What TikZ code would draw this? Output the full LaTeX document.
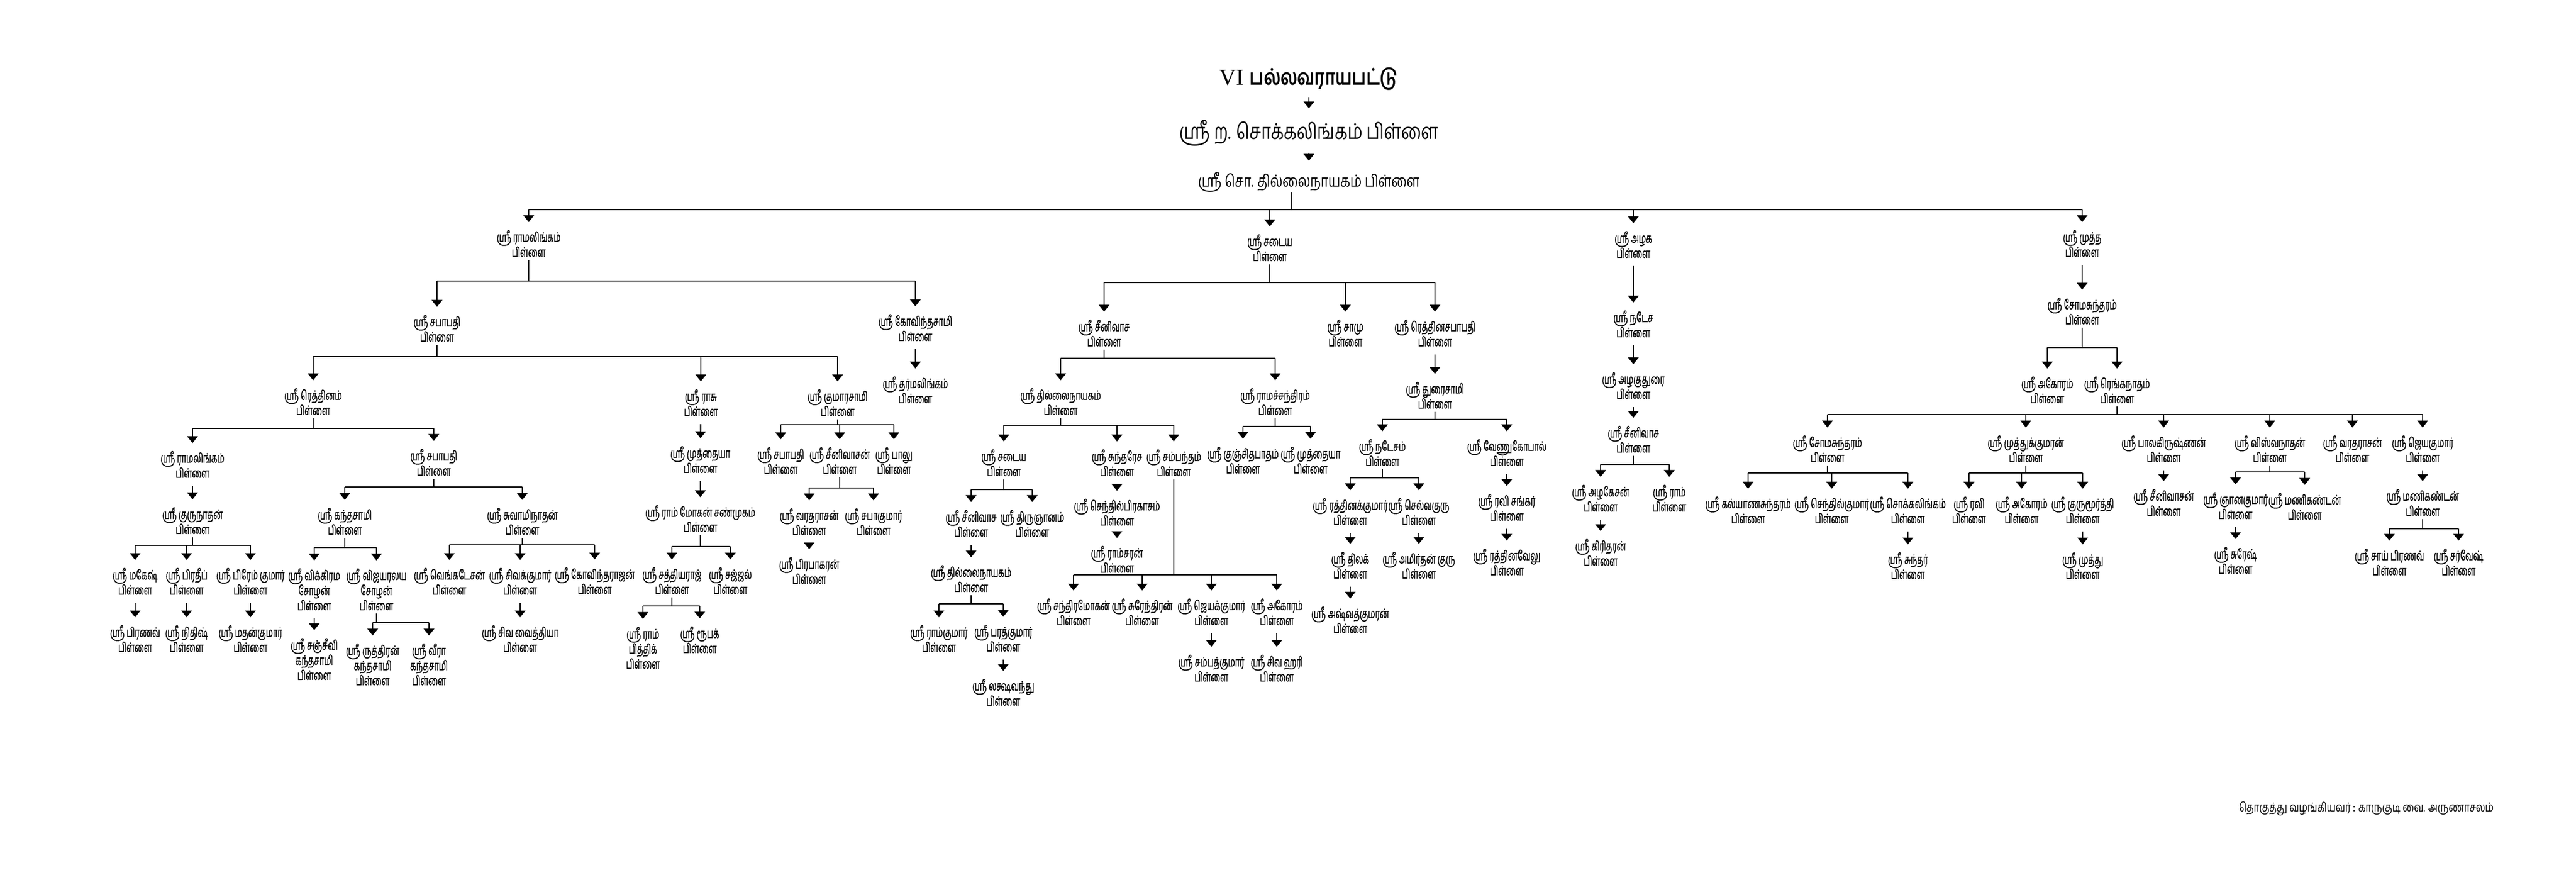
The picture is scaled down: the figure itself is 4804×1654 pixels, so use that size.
\documentclass[tikz,border=0pt]{standalone}
\usepackage{fontspec}
\usetikzlibrary{arrows.meta}
\newfontfamily\tamiltitle[Script=Tamil,FakeStretch=0.775]{Hind Madurai}
\newfontfamily\tamilnarrow[Script=Tamil,FakeStretch=0.6,FakeBold=0.6]{Hind Madurai}
\newfontfamily\romanfont{Liberation Serif}
\newcommand{\pname}{\tamilnarrow\fontsize{7}{8}\selectfont}

\begin{document}
\begin{tikzpicture}[x=0.01cm,y=-0.01cm,>={Triangle[width=5.6pt,length=3.6pt]},
  pn/.style={align=center,inner sep=1.5pt,font=\pname},
  head/.style={inner sep=0pt},
  headarr/.style={->,line width=0.75pt,shorten <=3.5pt,shorten >=6pt},
  arr/.style={->,line width=0.7pt,shorten >=2.5pt},
  down/.style={->,line width=0.7pt,shorten >=2.5pt,shorten <=2.5pt},
  bar/.style={line width=0.7pt},
  stem/.style={line width=0.35pt}]

  \useasboundingbox (0,0) rectangle (4804,1654);

%%%%%%%%%%%%%%%%%%%%%%%%%%%%%%%%%%%%%%%%%%
  % Head of the line
  \node[head] (t0) at (2441,147) {{\romanfont\fontsize{12}{14}\selectfont VI} {\tamiltitle\bfseries\fontsize{11.5}{14}\selectfont பல்லவராயபட்டு}};
  \node[head,font=\tamiltitle\fontsize{11.5}{14}\selectfont] (t1) at (2441,248) {ஸ்ரீ ற. சொக்கலிங்கம் பிள்ளை};
  \node[head,font=\tamiltitle\fontsize{8.8}{11}\selectfont] (t2) at (2441,340) {ஸ்ரீ சொ. தில்லைநாயகம் பிள்ளை};
  \draw[headarr] (t0) -- (t1);
  \draw[headarr] (t1) -- (t2);

  % Four sons
  \node[pn] (r) at (986,454) {ஸ்ரீ ராமலிங்கம்\\பிள்ளை};
  \node[pn] (s) at (2368,462) {ஸ்ரீ சடைய\\பிள்ளை};
  \node[pn] (a) at (3046,456) {ஸ்ரீ அழக\\பிள்ளை};
  \node[pn] (m) at (3883,454) {ஸ்ரீ முத்த\\பிள்ளை};

  \coordinate (mainstem) at (2409,391);
  \draw[stem] (t2.south -| mainstem) -- (mainstem);
  \draw[bar] (r |- 0,391) -- (m |- 0,391);
  \foreach \c in {r,s,a,m} \draw[arr] (\c |- 0,391) -- (\c);

%%%%%%%%%%%%%%%%%%%%%%%%%%%%%%%%%%%%%%%%%%
  % Ramalingam line
  \begin{scope}
    \node[pn] (r1) at (815,612) {ஸ்ரீ சபாபதி\\பிள்ளை};
    \node[pn] (r2) at (1707,611) {ஸ்ரீ கோவிந்தசாமி\\பிள்ளை};
    \node[pn] (r21) at (1707,727) {ஸ்ரீ தர்மலிங்கம்\\பிள்ளை};
    \node[pn] (r11) at (584,749) {ஸ்ரீ ரெத்தினம்\\பிள்ளை};
    \node[pn] (r12) at (1307,751) {ஸ்ரீ ராசு\\பிள்ளை};
    \node[pn] (r13) at (1562,751) {ஸ்ரீ குமாரசாமி\\பிள்ளை};
    \node[pn] (r111) at (359,866) {ஸ்ரீ ராமலிங்கம்\\பிள்ளை};
    \node[pn] (r112) at (809,862) {ஸ்ரீ சபாபதி\\பிள்ளை};
    \node[pn] (r1111) at (359,971) {ஸ்ரீ குருநாதன்\\பிள்ளை};
    \node[pn] (r11111) at (252,1084) {ஸ்ரீ மகேஷ்\\பிள்ளை};
    \node[pn] (r11112) at (348,1084) {ஸ்ரீ பிரதீப்\\பிள்ளை};
    \node[pn] (r11113) at (467,1084) {ஸ்ரீ பிரேம் குமார்\\பிள்ளை};
    \node[pn] (r111111) at (252,1191) {ஸ்ரீ பிரணவ்\\பிள்ளை};
    \node[pn] (r111121) at (348,1191) {ஸ்ரீ நிதிஷ்\\பிள்ளை};
    \node[pn] (r111131) at (467,1191) {ஸ்ரீ மதன்குமார்\\பிள்ளை};
    \node[pn] (r1121) at (643,972) {ஸ்ரீ கந்தசாமி\\பிள்ளை};
    \node[pn] (r1122) at (974,972) {ஸ்ரீ சுவாமிநாதன்\\பிள்ளை};
    \node[pn] (r11211) at (586,1099) {ஸ்ரீ விக்கிரம\\சோழன்\\பிள்ளை};
    \node[pn] (r11212) at (702,1099) {ஸ்ரீ விஜயரலய\\சோழன்\\பிள்ளை};
    \node[pn] (r112111) at (586,1229) {ஸ்ரீ சஞ்சீவி\\கந்தசாமி\\பிள்ளை};
    \node[pn] (r112121) at (695,1239) {ஸ்ரீ ருத்திரன்\\கந்தசாமி\\பிள்ளை};
    \node[pn] (r112122) at (800,1239) {ஸ்ரீ வீரா\\கந்தசாமி\\பிள்ளை};
    \node[pn] (r11221) at (838,1084) {ஸ்ரீ வெங்கடேசன்\\பிள்ளை};
    \node[pn] (r11222) at (970,1084) {ஸ்ரீ சிவக்குமார்\\பிள்ளை};
    \node[pn] (r11223) at (1109,1083) {ஸ்ரீ கோவிந்தராஜன்\\பிள்ளை};
    \node[pn] (r112221) at (970,1191) {ஸ்ரீ சிவ வைத்தியா\\பிள்ளை};
    \node[pn] (r121) at (1306,857) {ஸ்ரீ முத்தையா\\பிள்ளை};
    \node[pn] (r1211) at (1306,967) {ஸ்ரீ ராம் மோகன் சண்முகம்\\பிள்ளை};
    \node[pn] (r12111) at (1253,1083) {ஸ்ரீ சத்தியராஜ்\\பிள்ளை};
    \node[pn] (r12112) at (1362,1083) {ஸ்ரீ சஜ்ஜல்\\பிள்ளை};
    \node[pn] (r121111) at (1199,1208) {ஸ்ரீ ராம்\\பித்திக்\\பிள்ளை};
    \node[pn] (r121112) at (1305,1193) {ஸ்ரீ ரூபக்\\பிள்ளை};
    \node[pn] (r131) at (1456,859) {ஸ்ரீ சபாபதி\\பிள்ளை};
    \node[pn] (r132) at (1566,859) {ஸ்ரீ சீனிவாசன்\\பிள்ளை};
    \node[pn] (r133) at (1667,859) {ஸ்ரீ பாலு\\பிள்ளை};
    \node[pn] (r1321) at (1509,973) {ஸ்ரீ வரதராசன்\\பிள்ளை};
    \node[pn] (r1322) at (1629,973) {ஸ்ரீ சபாகுமார்\\பிள்ளை};
    \node[pn] (r13211) at (1509,1064) {ஸ்ரீ பிரபாகரன்\\பிள்ளை};

    % Families
    \draw[stem] (r) -- (r |- 0,524);
    \draw[bar] (r1 |- 0,524) -- (r2 |- 0,524);
    \foreach \c in {r1,r2} \draw[arr] (\c |- 0,524) -- (\c);

    \draw[stem] (r1) -- (r1 |- 0,665);
    \draw[bar] (r11 |- 0,665) -- (r13 |- 0,665);
    \foreach \c in {r11,r12,r13} \draw[arr] (\c |- 0,665) -- (\c);

    \draw[stem] (r11) -- (r11 |- 0,799);
    \draw[bar] (r111 |- 0,799) -- (r112 |- 0,799);
    \foreach \c in {r111,r112} \draw[arr] (\c |- 0,799) -- (\c);

    \draw[stem] (r1111) -- (r1111 |- 0,1017);
    \draw[bar] (r11111 |- 0,1017) -- (r11113 |- 0,1017);
    \foreach \c in {r11111,r11112,r11113} \draw[arr] (\c |- 0,1017) -- (\c);

    \draw[stem] (r112) -- (r112 |- 0,908);
    \draw[bar] (r1121 |- 0,908) -- (r1122 |- 0,908);
    \foreach \c in {r1121,r1122} \draw[arr] (\c |- 0,908) -- (\c);

    \draw[stem] (r1121) -- (r1121 |- 0,1021);
    \draw[bar] (r11211 |- 0,1021) -- (r11212 |- 0,1021);
    \foreach \c in {r11211,r11212} \draw[arr] (\c |- 0,1021) -- (\c);

    \draw[stem] (r11212) -- (r11212 |- 0,1161);
    \draw[bar] (r112121 |- 0,1161) -- (r112122 |- 0,1161);
    \foreach \c in {r112121,r112122} \draw[arr] (\c |- 0,1161) -- (\c);

    \draw[stem] (r1122) -- (r1122 |- 0,1016);
    \draw[bar] (r11221 |- 0,1016) -- (r11223 |- 0,1016);
    \foreach \c in {r11221,r11222,r11223} \draw[arr] (\c |- 0,1016) -- (\c);

    \draw[stem] (r1211) -- (r1211 |- 0,1019);
    \draw[bar] (r12111 |- 0,1019) -- (r12112 |- 0,1019);
    \foreach \c in {r12111,r12112} \draw[arr] (\c |- 0,1019) -- (\c);

    \draw[stem] (r12111) -- (r12111 |- 0,1130);
    \draw[bar] (r121111 |- 0,1130) -- (r121112 |- 0,1130);
    \foreach \c in {r121111,r121112} \draw[arr] (\c |- 0,1130) -- (\c);

    \draw[stem] (r13) -- (r13 |- 0,792);
    \draw[bar] (r131 |- 0,792) -- (r133 |- 0,792);
    \foreach \c in {r131,r132,r133} \draw[arr] (\c |- 0,792) -- (\c);

    \draw[stem] (r132) -- (r132 |- 0,910);
    \draw[bar] (r1321 |- 0,910) -- (r1322 |- 0,910);
    \foreach \c in {r1321,r1322} \draw[arr] (\c |- 0,910) -- (\c);
  \end{scope}

%%%%%%%%%%%%%%%%%%%%%%%%%%%%%%%%%%%%%%%%%%
  % Sadaiya line
  \begin{scope}
    \node[pn] (s1) at (2059,621) {ஸ்ரீ சீனிவாச\\பிள்ளை};
    \node[pn] (s2) at (2509,621) {ஸ்ரீ சாமு\\பிள்ளை};
    \node[pn] (s3) at (2676,621) {ஸ்ரீ ரெத்தினசபாபதி\\பிள்ளை};
    \node[pn] (s11) at (1978,749) {ஸ்ரீ தில்லைநாயகம்\\பிள்ளை};
    \node[pn] (s12) at (2378,749) {ஸ்ரீ ராமச்சந்திரம்\\பிள்ளை};
    \node[pn] (s111) at (1872,863) {ஸ்ரீ சடைய\\பிள்ளை};
    \node[pn] (s112) at (2083,863) {ஸ்ரீ சுந்தரேச\\பிள்ளை};
    \node[pn] (s113) at (2189,863) {ஸ்ரீ சம்பந்தம்\\பிள்ளை};
    \node[pn] (s1111) at (1811,976) {ஸ்ரீ சீனிவாச\\பிள்ளை};
    \node[pn] (s1112) at (1925,976) {ஸ்ரீ திருஞானம்\\பிள்ளை};
    \node[pn] (s11111) at (1811,1079) {ஸ்ரீ தில்லைநாயகம்\\பிள்ளை};
    \node[pn] (s111111) at (1751,1191) {ஸ்ரீ ராம்குமார்\\பிள்ளை};
    \node[pn] (s111112) at (1871,1190) {ஸ்ரீ பரத்குமார்\\பிள்ளை};
    \node[pn] (s1111121) at (1871,1291) {ஸ்ரீ லக்ஷவந்து\\பிள்ளை};
    \node[pn] (s1121) at (2083,955) {ஸ்ரீ செந்தில்பிரகாசம்\\பிள்ளை};
    \node[pn] (s11211) at (2083,1043) {ஸ்ரீ ராம்சரன்\\பிள்ளை};
    \node[pn] (s1131) at (2002,1141) {ஸ்ரீ சந்திரமோகன்\\பிள்ளை};
    \node[pn] (s1132) at (2130,1141) {ஸ்ரீ சுரேந்திரன்\\பிள்ளை};
    \node[pn] (s1133) at (2259,1141) {ஸ்ரீ ஜெயக்குமார்\\பிள்ளை};
    \node[pn] (s1134) at (2381,1141) {ஸ்ரீ அகோரம்\\பிள்ளை};
    \node[pn] (s11331) at (2259,1246) {ஸ்ரீ சம்பத்குமார்\\பிள்ளை};
    \node[pn] (s11341) at (2381,1246) {ஸ்ரீ சிவ ஹரி\\பிள்ளை};
    \node[pn] (s121) at (2318,858) {ஸ்ரீ குஞ்சிதபாதம்\\பிள்ளை};
    \node[pn] (s122) at (2444,858) {ஸ்ரீ முத்தையா\\பிள்ளை};
    \node[pn] (s31) at (2676,737) {ஸ்ரீ துரைசாமி\\பிள்ளை};
    \node[pn] (s311) at (2578,844) {ஸ்ரீ நடேசம்\\பிள்ளை};
    \node[pn] (s312) at (2810,844) {ஸ்ரீ வேணுகோபால்\\பிள்ளை};
    \node[pn] (s3111) at (2518,954) {ஸ்ரீ ரத்தினக்குமார்\\பிள்ளை};
    \node[pn] (s3112) at (2646,954) {ஸ்ரீ செல்வகுரு\\பிள்ளை};
    \node[pn] (s31111) at (2518,1054) {ஸ்ரீ திலக்\\பிள்ளை};
    \node[pn] (s31121) at (2646,1054) {ஸ்ரீ அமிர்தன் குரு\\பிள்ளை};
    \node[pn] (s311111) at (2518,1156) {ஸ்ரீ அஷ்வத்குமரன்\\பிள்ளை};
    \node[pn] (s3121) at (2810,946) {ஸ்ரீ ரவி சங்கர்\\பிள்ளை};
    \node[pn] (s31211) at (2810,1048) {ஸ்ரீ ரத்தினவேலு\\பிள்ளை};

    % Families
    \draw[stem] (s) -- (s |- 0,527);
    \draw[bar] (s1 |- 0,527) -- (s3 |- 0,527);
    \foreach \c in {s1,s2,s3} \draw[arr] (\c |- 0,527) -- (\c);

    \draw[stem] (s1) -- (s1 |- 0,668);
    \draw[bar] (s11 |- 0,668) -- (s12 |- 0,668);
    \foreach \c in {s11,s12} \draw[arr] (\c |- 0,668) -- (\c);

    \draw[stem] (s11) -- (s11 |- 0,793);
    \draw[bar] (s111 |- 0,793) -- (s113 |- 0,793);
    \foreach \c in {s111,s112,s113} \draw[arr] (\c |- 0,793) -- (\c);

    \draw[stem] (s111) -- (s111 |- 0,913);
    \draw[bar] (s1111 |- 0,913) -- (s1112 |- 0,913);
    \foreach \c in {s1111,s1112} \draw[arr] (\c |- 0,913) -- (\c);

    \draw[stem] (s11111) -- (s11111 |- 0,1126);
    \draw[bar] (s111111 |- 0,1126) -- (s111112 |- 0,1126);
    \foreach \c in {s111111,s111112} \draw[arr] (\c |- 0,1126) -- (\c);

    \draw[stem] (s113) -- (s113 |- 0,1072);
    \draw[bar] (s1131 |- 0,1072) -- (s1134 |- 0,1072);
    \foreach \c in {s1131,s1132,s1133,s1134} \draw[arr] (\c |- 0,1072) -- (\c);

    \draw[stem] (s12) -- (s12 |- 0,795);
    \draw[bar] (s121 |- 0,795) -- (s122 |- 0,795);
    \foreach \c in {s121,s122} \draw[arr] (\c |- 0,795) -- (\c);

    \draw[stem] (s31) -- (s31 |- 0,782);
    \draw[bar] (s311 |- 0,782) -- (s312 |- 0,782);
    \foreach \c in {s311,s312} \draw[arr] (\c |- 0,782) -- (\c);

    \draw[stem] (s311) -- (s311 |- 0,891);
    \draw[bar] (s3111 |- 0,891) -- (s3112 |- 0,891);
    \foreach \c in {s3111,s3112} \draw[arr] (\c |- 0,891) -- (\c);
  \end{scope}

%%%%%%%%%%%%%%%%%%%%%%%%%%%%%%%%%%%%%%%%%%
  % Azhaga line
  \begin{scope}
    \node[pn] (a1) at (3046,604) {ஸ்ரீ நடேச\\பிள்ளை};
    \node[pn] (a11) at (3046,719) {ஸ்ரீ அழகுதுரை\\பிள்ளை};
    \node[pn] (a111) at (3046,819) {ஸ்ரீ சீனிவாச\\பிள்ளை};
    \node[pn] (a1111) at (2985,929) {ஸ்ரீ அழகேசன்\\பிள்ளை};
    \node[pn] (a1112) at (3113,929) {ஸ்ரீ ராம்\\பிள்ளை};
    \node[pn] (a11111) at (2985,1030) {ஸ்ரீ கிரிதரன்\\பிள்ளை};

    \draw[stem] (a111) -- (a111 |- 0,866);
    \draw[bar] (a1111 |- 0,866) -- (a1112 |- 0,866);
    \foreach \c in {a1111,a1112} \draw[arr] (\c |- 0,866) -- (\c);
  \end{scope}

%%%%%%%%%%%%%%%%%%%%%%%%%%%%%%%%%%%%%%%%%%
  % Muththa line
  \begin{scope}
    \node[pn] (m1) at (3883,580) {ஸ்ரீ சோமசுந்தரம்\\பிள்ளை};
    \node[pn] (m11) at (3818,727) {ஸ்ரீ அகோரம்\\பிள்ளை};
    \node[pn] (m12) at (3948,727) {ஸ்ரீ ரெங்கநாதம்\\பிள்ளை};
    \node[pn] (m121) at (3408,837) {ஸ்ரீ சோமசுந்தரம்\\பிள்ளை};
    \node[pn] (m122) at (3778,837) {ஸ்ரீ முத்துக்குமரன்\\பிள்ளை};
    \node[pn] (m123) at (4035,837) {ஸ்ரீ பாலகிருஷ்ணன்\\பிள்ளை};
    \node[pn] (m124) at (4233,837) {ஸ்ரீ விஸ்வநாதன்\\பிள்ளை};
    \node[pn] (m125) at (4387,837) {ஸ்ரீ வரதராசன்\\பிள்ளை};
    \node[pn] (m126) at (4518,837) {ஸ்ரீ ஜெயகுமார்\\பிள்ளை};
    \node[pn] (m1211) at (3260,951) {ஸ்ரீ கல்யாணசுந்தரம்\\பிள்ளை};
    \node[pn] (m1212) at (3416,951) {ஸ்ரீ செந்தில்குமார்\\பிள்ளை};
    \node[pn] (m1213) at (3558,951) {ஸ்ரீ சொக்கலிங்கம்\\பிள்ளை};
    \node[pn] (m12131) at (3558,1055) {ஸ்ரீ சுந்தர்\\பிள்ளை};
    \node[pn] (m1221) at (3672,951) {ஸ்ரீ ரவி\\பிள்ளை};
    \node[pn] (m1222) at (3770,951) {ஸ்ரீ அகோரம்\\பிள்ளை};
    \node[pn] (m1223) at (3884,951) {ஸ்ரீ குருமூர்த்தி\\பிள்ளை};
    \node[pn] (m12231) at (3884,1055) {ஸ்ரீ முத்து\\பிள்ளை};
    \node[pn] (m1231) at (4035,937) {ஸ்ரீ சீனிவாசன்\\பிள்ளை};
    \node[pn] (m1241) at (4169,943) {ஸ்ரீ ஞானகுமார்\\பிள்ளை};
    \node[pn] (m1242) at (4298,944) {ஸ்ரீ மணிகண்டன்\\பிள்ளை};
    \node[pn] (m12411) at (4169,1045) {ஸ்ரீ சுரேஷ்\\பிள்ளை};
    \node[pn] (m1261) at (4518,937) {ஸ்ரீ மணிகண்டன்\\பிள்ளை};
    \node[pn] (m12611) at (4456,1048) {ஸ்ரீ சாய் பிரணவ்\\பிள்ளை};
    \node[pn] (m12612) at (4585,1048) {ஸ்ரீ சர்வேஷ்\\பிள்ளை};

    \draw[stem] (m1) -- (m1 |- 0,648);
    \draw[bar] (m11 |- 0,648) -- (m12 |- 0,648);
    \foreach \c in {m11,m12} \draw[arr] (\c |- 0,648) -- (\c);

    \draw[stem] (m12) -- (m12 |- 0,773);
    \draw[bar] (m121 |- 0,773) -- (m126 |- 0,773);
    \foreach \c in {m121,m122,m123,m124,m125,m126} \draw[arr] (\c |- 0,773) -- (\c);

    \draw[stem] (m121) -- (m121 |- 0,882);
    \draw[bar] (m1211 |- 0,882) -- (m1213 |- 0,882);
    \foreach \c in {m1211,m1212,m1213} \draw[arr] (\c |- 0,882) -- (\c);

    \draw[stem] (m122) -- (m122 |- 0,882);
    \draw[bar] (m1221 |- 0,882) -- (m1223 |- 0,882);
    \foreach \c in {m1221,m1222,m1223} \draw[arr] (\c |- 0,882) -- (\c);

    \draw[stem] (m124) -- (m124 |- 0,880);
    \draw[bar] (m1241 |- 0,880) -- (m1242 |- 0,880);
    \foreach \c in {m1241,m1242} \draw[arr] (\c |- 0,880) -- (\c);

    \draw[stem] (m1261) -- (m1261 |- 0,986);
    \draw[bar] (m12611 |- 0,986) -- (m12612 |- 0,986);
    \foreach \c in {m12611,m12612} \draw[arr] (\c |- 0,986) -- (\c);
  \end{scope}

%%%%%%%%%%%%%%%%%%%%%%%%%%%%%%%%%%%%%%%%%%
  % Only sons
  \foreach \p/\c in {r2/r21,r111/r1111,r11111/r111111,r11112/r111121,
      r11113/r111131,r11211/r112111,r11222/r112221,r12/r121,r121/r1211,r1321/r13211,
      s1111/s11111,s111112/s1111121,s112/s1121,s1121/s11211,s1133/s11331,s1134/s11341,
      s3/s31,s3111/s31111,s3112/s31121,s31111/s311111,s312/s3121,s3121/s31211,
      a/a1,a1/a11,a11/a111,a1111/a11111,m/m1,m1213/m12131,m1223/m12231,m123/m1231,
      m1241/m12411,m126/m1261}
    \draw[down] (\p) -- (\c);

  % Compiler
  \node[anchor=east,font=\tamiltitle\fontsize{6.5}{9}\selectfont] (credit) at (4663,1508) {தொகுத்து வழங்கியவர் : காருகுடி வை. அருணாசலம்};

\end{tikzpicture}
\end{document}
